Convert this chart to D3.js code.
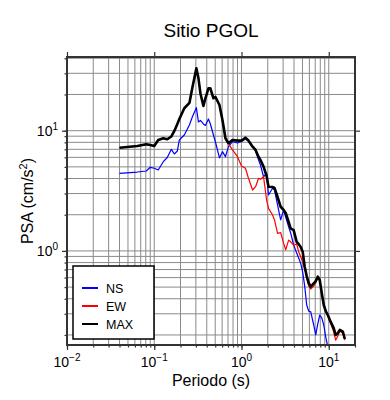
<!DOCTYPE html>
<html>
<head>
<meta charset="utf-8">
<script src="https://cdn.jsdelivr.net/npm/d3@7"></script>
<style>
  body { margin: 0; background: #fff; }
  text { font-family: "Liberation Sans", Arial, Helvetica, sans-serif; fill: #000; }
</style>
</head>
<body>
<div id="chart"></div>
<script>
// periods (s), shared by the three series
var periods = [0.04, 0.064, 0.081, 0.09, 0.1, 0.111, 0.127, 0.141, 0.157, 0.17, 0.184, 0.194,
  0.221, 0.253, 0.273, 0.304, 0.321, 0.338, 0.366, 0.386, 0.418, 0.44, 0.477, 0.503, 0.559,
  0.605, 0.655, 0.709, 0.788, 0.9, 1.0, 1.11, 1.2, 1.34, 1.45, 1.57, 1.65, 1.79, 1.94, 2.04,
  2.27, 2.39, 2.59, 2.81, 3.04, 3.21, 3.47, 3.66, 3.96, 4.29, 4.52, 4.77, 5.03, 5.3, 5.59,
  5.89, 6.21, 6.73, 7.1, 7.48, 7.89, 8.32, 8.77, 9.24, 9.75, 10.5, 11.4, 12.0, 12.7, 13.4,
  14.5, 15.3];

var ns = [4.42, 4.53, 4.62, 4.96, 4.87, 4.71, 5.52, 5.98, 7.0, 6.4, 6.78, 8.37,
  9.21, 11.15, 13.0, 15.54, 11.81, 12.16, 11.37, 11.05, 12.51, 11.37, 9.21, 8.05, 5.93,
  6.69, 6.08, 7.36, 8.1, 7.9, 8.13, 8.53, 8.21, 7.32, 6.78, 5.71, 5.18, 4.14, 4.42, 2.92,
  3.32, 3.21, 2.41, 1.81, 2.19, 1.91, 1.59, 1.41, 1.12, 0.961, 0.873, 0.789, 0.667, 0.511, 0.355,
  0.316, 0.312, 0.242, 0.2, 0.246, 0.293, 0.277, 0.242, 0.192, 0.16];

var ew = [7.2, 7.44, 7.69, 7.58, 7.44, 8.35, 8.63, 8.46, 8.93, 9.92, 11.35, 12.49,
  15.33, 16.97, 22.6, 32.9, 27.3, 20.4, 16.0, 18.55, 22.4, 22.4, 18.55, 19.0, 16.3,
  12.2, 8.62, 7.84, 6.91, 6.08, 5.09, 4.87, 4.04, 3.21, 3.42, 4.02, 3.94, 4.14, 2.65, 2.26,
  1.99, 1.81, 1.4, 1.42, 1.16, 1.02, 1.23, 1.19, 1.12, 1.14, 0.985, 0.895, 0.809, 0.721, 0.595,
  0.511, 0.482, 0.511, 0.541, 0.601, 0.562, 0.446, 0.355, 0.316, 0.293, 0.251, 0.211, 0.181, 0.196, 0.216,
  0.207, 0.181];

var psaMax = [7.22, 7.46, 7.71, 7.6, 7.46, 8.37, 8.65, 8.48, 8.95, 9.94, 11.37, 12.51,
  15.36, 17.0, 22.66, 33.0, 27.4, 20.5, 16.05, 18.6, 22.5, 22.5, 18.6, 19.07, 16.36,
  12.27, 8.65, 7.86, 8.37, 8.26, 8.26, 8.74, 8.29, 7.36, 6.91, 6.04, 5.71, 5.02, 4.2, 3.42,
  3.4, 3.34, 2.81, 2.33, 2.19, 2.07, 1.74, 1.54, 1.49, 1.19, 1.14, 1.08, 0.985, 0.739, 0.618,
  0.541, 0.504, 0.538, 0.562, 0.61, 0.573, 0.446, 0.355, 0.316, 0.293, 0.258, 0.228, 0.2, 0.207, 0.22,
  0.213, 0.185];

var xMajor = [0.01, 0.1, 1, 10];
var yMajor = [1, 10];
var xExp = ["−2", "−1", "0", "1"];
var yExp = ["0", "1"];

var seriesNames = ["NS", "EW", "MAX"];
var seriesColors = ["#0000ff", "#ff0000", "#000000"];
var seriesWidths = [1.2, 1.2, 2.6];
var seriesValues = [ns, ew, psaMax];

var width = 390, height = 400;
var pL = 67, pR = 355, pT = 57, pB = 345;

var svg = d3.select("#chart").append("svg")
    .attr("width", width)
    .attr("height", height);

var x = d3.scaleLog().domain([0.01, 20]).range([pL, pR]);
var y = d3.scaleLog().domain([0.165, 41]).range([pB, pT]);

// grid
svg.append("g").selectAll("line")
    .data(x.ticks())
    .enter().append("line")
    .attr("x1", function(d){ return x(d); })
    .attr("x2", function(d){ return x(d); })
    .attr("y1", pT).attr("y2", pB)
    .attr("stroke", "#8a8a8a").attr("stroke-width", 1);

svg.append("g").selectAll("line")
    .data(y.ticks())
    .enter().append("line")
    .attr("y1", function(d){ return y(d); })
    .attr("y2", function(d){ return y(d); })
    .attr("x1", pL).attr("x2", pR)
    .attr("stroke", "#8a8a8a").attr("stroke-width", 1);

// series
svg.append("clipPath").attr("id", "clip")
  .append("rect").attr("x", pL).attr("y", pT)
  .attr("width", pR - pL).attr("height", pB - pT);

var plot = svg.append("g").attr("clip-path", "url(#clip)");

seriesValues.forEach(function(vals, i){
  var pts = vals.map(function(v, j){ return [periods[j], v]; });
  var line = d3.line()
      .x(function(d){ return x(d[0]); })
      .y(function(d){ return y(d[1]); });
  plot.append("path")
      .datum(pts)
      .attr("d", line)
      .attr("fill", "none")
      .attr("stroke", seriesColors[i])
      .attr("stroke-width", seriesWidths[i])
      .attr("stroke-linejoin", "round");
});

// axes ticks
function styleAxis(g){
  g.select(".domain").remove();
  g.selectAll(".tick line").attr("stroke", "#333").attr("stroke-width", 1.2);
  g.selectAll(".tick text").remove();
}
svg.append("g").attr("transform", "translate(0," + pB + ")")
    .call(d3.axisBottom(x).tickValues(xMajor).tickSize(5)).call(styleAxis);
svg.append("g").attr("transform", "translate(0," + pT + ")")
    .call(d3.axisTop(x).tickValues(xMajor).tickSize(5)).call(styleAxis);
svg.append("g").attr("transform", "translate(" + pL + ",0)")
    .call(d3.axisLeft(y).tickValues(yMajor).tickSize(5)).call(styleAxis);
svg.append("g").attr("transform", "translate(" + pR + ",0)")
    .call(d3.axisRight(y).tickValues(yMajor).tickSize(5)).call(styleAxis);
svg.append("g").attr("transform", "translate(" + pL + ",0)")
    .call(d3.axisLeft(y).tickValues(y.ticks()).tickSize(2.5)).call(styleAxis);
svg.append("g").attr("transform", "translate(0," + pB + ")")
    .call(d3.axisBottom(x).tickValues(x.ticks()).tickSize(2.5)).call(styleAxis);

// frame
svg.append("rect")
    .attr("x", pL).attr("y", pT)
    .attr("width", pR - pL).attr("height", pB - pT)
    .attr("fill", "none").attr("stroke", "#333").attr("stroke-width", 2);

// tick labels
xMajor.forEach(function(v, i){
  var t = svg.append("text")
      .attr("x", x(v)).attr("y", pB + 22)
      .attr("text-anchor", "middle")
      .attr("font-size", 14);
  t.append("tspan").text("10");
  t.append("tspan").attr("dy", -6).attr("font-size", 10).text(xExp[i]);
});
yMajor.forEach(function(v, i){
  var t = svg.append("text")
      .attr("x", pL - 9).attr("y", y(v) + 5)
      .attr("text-anchor", "end")
      .attr("font-size", 14);
  t.append("tspan").text("10");
  t.append("tspan").attr("dy", -6).attr("font-size", 10).text(yExp[i]);
});

// titles
svg.append("text")
    .attr("x", (pL + pR) / 2).attr("y", 37)
    .attr("text-anchor", "middle").attr("font-size", 19)
    .text("Sitio PGOL");

svg.append("text")
    .attr("x", (pL + pR) / 2).attr("y", 386)
    .attr("text-anchor", "middle").attr("font-size", 16)
    .text("Periodo (s)");

var yl = svg.append("text")
    .attr("transform", "translate(33," + ((pT + pB) / 2) + ") rotate(-90)")
    .attr("text-anchor", "middle").attr("font-size", 16);
yl.append("tspan").text("PSA (cm/s");
yl.append("tspan").attr("dy", -6).attr("font-size", 11).text("2");
yl.append("tspan").attr("dy", 6).text(")");

// legend
var lg = svg.append("g");
lg.append("rect")
    .attr("x", 73).attr("y", 266).attr("width", 81).attr("height", 73)
    .attr("fill", "#fff").attr("stroke", "#000").attr("stroke-width", 1.5);
seriesNames.forEach(function(name, i){
  var yy = 288 + i * 18;
  lg.append("line")
      .attr("x1", 82).attr("x2", 98).attr("y1", yy).attr("y2", yy)
      .attr("stroke", seriesColors[i]).attr("stroke-width", 2);
  lg.append("text")
      .attr("x", 106).attr("y", yy + 4.5)
      .attr("font-size", 12.5)
      .text(name);
});
</script>
</body>
</html>
